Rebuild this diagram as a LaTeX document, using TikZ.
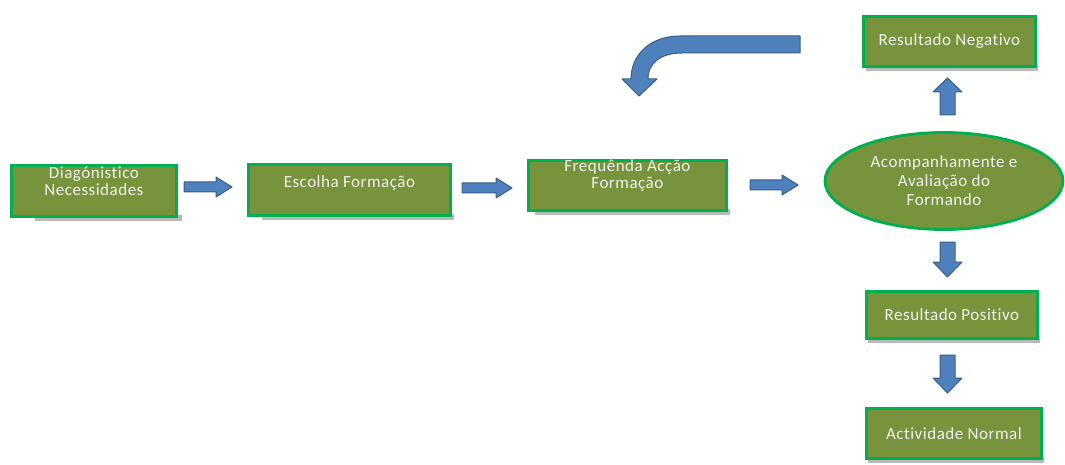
\documentclass[tikz,border=0pt]{standalone}
\usepackage{fontspec}
\setmainfont{Carlito}
\newfontfamily\lblfont[LetterSpace=3,Ligatures=NoCommon]{Carlito}
\usetikzlibrary{shapes.geometric}
\definecolor{olive}{HTML}{77933C}
\definecolor{gborder}{HTML}{00B050}
\definecolor{afill}{HTML}{4F81BD}
\definecolor{aborder}{HTML}{385D8A}
\definecolor{txt}{HTML}{F2F2F2}
\tikzset{
  box/.style={draw=gborder, line width=2.8pt, fill=olive},
  lbl/.style={text=txt, align=center, font=\lblfont\fontsize{17}{17}\selectfont},
  shad/.style={fill=gray!55},
  barrow/.style={fill=afill, draw=aborder, line width=1pt, line join=round},
}
\begin{document}
\begin{tikzpicture}[x=1pt,y=-1pt]
\useasboundingbox (0,0) rectangle (1065,465);
% shadows
\fill[shad] (35,215) rectangle (182,221);
\fill[shad] (262,214) rectangle (454,220);
\fill[shad] (535,209) rectangle (730,215);
\fill[shad] (866,65) rectangle (1038,71);
\fill[shad] (868,337) rectangle (1040,343);
\fill[shad] (868,457) rectangle (1044,463);
% boxes
\node[box, minimum width=165pt, minimum height=51pt, anchor=north west] (b1) at (10,164) {};
\node[lbl, font=\lblfont\fontsize{17}{16.5}\selectfont] (t1) at (b1.center |- 0,181) {Diagónistico\\Necessidades};
\node[box, minimum width=202pt, minimum height=51pt, anchor=north west] (b2) at (247,163) {};
\node[lbl] (t2) at (b2.center |- 0,183) {Escolha Formação};
\node[box, minimum width=198pt, minimum height=50pt, anchor=north west] (b3) at (527,159) {};
\node[lbl] (t3) at (b3.center |- 0,176) {Frequênda Acção\\Formação};
\node[box, ellipse, minimum width=238pt, minimum height=97pt, inner sep=0pt] (el) at (944,181) {};
\node[lbl, font=\lblfont\fontsize{17}{19}\selectfont] (t4) at (el.center) {Acompanhamente e\\Avaliação do\\Formando};
\node[box, minimum width=172pt, minimum height=50pt, anchor=north west] (rn) at (862,15) {};
\node[lbl] (t5) at (rn.center) {Resultado Negativo};
\node[box, minimum width=171pt, minimum height=47pt, anchor=north west] (rp) at (865,290) {};
\node[lbl] (t6) at (rp.center) {Resultado Positivo};
\node[box, minimum width=175pt, minimum height=50pt, anchor=north west] (an) at (865,407) {};
\node[lbl] (t7) at (an.center) {Actividade Normal};
% straight block arrows
\draw[barrow] (184,182) -- (216,182) -- (216,177) -- (232,187) -- (216,197) -- (216,192) -- (184,192) -- cycle;
\draw[barrow] (462,183) -- (496,183) -- (496,178) -- (512,188) -- (496,198) -- (496,193) -- (462,193) -- cycle;
\draw[barrow] (750,180) -- (782,180) -- (782,175) -- (798,185) -- (782,195) -- (782,190) -- (750,190) -- cycle;
% up arrow
\draw[barrow] (940,115) -- (940,92) -- (933,92) -- (947.5,78) -- (962,92) -- (955,92) -- (955,115) -- cycle;
% down arrows
\draw[barrow] (940,242) -- (940,262) -- (933,262) -- (947.5,277) -- (962,262) -- (955,262) -- (955,242) -- cycle;
\draw[barrow] (940,355) -- (940,378) -- (933,378) -- (947.5,393) -- (962,378) -- (955,378) -- (955,355) -- cycle;
% curved arrow
\draw[barrow] (800,36) -- (680,36) .. controls (650,36) and (631,55) .. (631,79)
  -- (622,79) -- (639,96) -- (657,79) -- (648,79)
  .. controls (648,62) and (662,53) .. (682,53) -- (800,53) -- cycle;
\end{tikzpicture}
\end{document}
